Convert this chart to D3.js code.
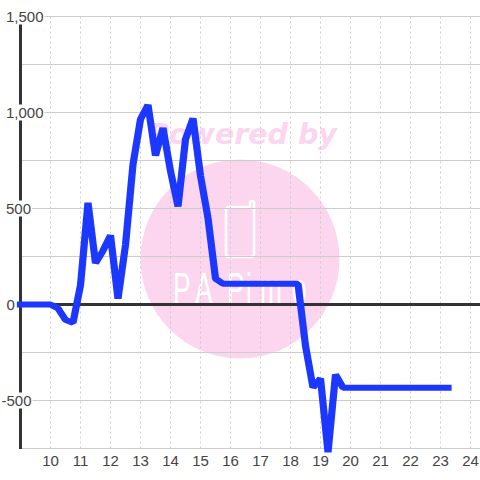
<!DOCTYPE html>
<html><head><meta charset="utf-8">
<script src="https://cdn.jsdelivr.net/npm/d3@7"></script>
<style>html,body{margin:0;padding:0;background:#fff}svg{display:block}</style>
</head><body><svg id="c" width="480" height="480"></svg>
<script>
const hours=[9,9.25,9.5,9.75,10,10.25,10.5,10.75,11,11.25,11.5,11.75,12,12.25,12.5,12.75,13,13.25,13.5,13.75,14,14.25,14.5,14.75,15,15.25,15.5,15.75,16,16.25,16.5,16.75,17,17.25,17.5,17.75,18,18.25,18.5,18.75,19,19.25,19.5,19.75,20,20.25,20.5,20.75,21,21.25,21.5,21.75,22,22.25,22.5,22.75,23,23.25];
const values=[0,0,0,0,0,-20,-80,-95,100,530,215,280,360,30,310,730,965,1040,775,920,695,510,860,970,670,450,135,108,108,108,108,108,108,108,108,108,108,108,-215,-433,-385,-770,-365,-433,-433,-433,-433,-433,-433,-433,-433,-433,-433,-433,-433,-433,-433,-433];
const yMajor=[1500,1000,500,0,-500];
const yMinor=[1250,750,250,-250,-750];
const xTicks=[10,11,12,13,14,15,16,17,18,19,20,21,22,23,24];
const logoText="PAPimo";
const logoLefts=[173,195,227,246,260,292];
const svg=d3.select("#c");
const stretch=1.2;
const logoSquash=0.6;
const x=d3.scaleLinear().domain([9,24.333]).range([20.5,480.5]);
const xS=d3.scaleLinear().domain([9,24.333]).range([20.5/stretch,480.5/stretch]);
const y=d3.scaleLinear().domain([-750,1500]).range([448.5,16.5]);
const font="'Liberation Sans',Arial,sans-serif";
// watermark
const wm=svg.append("g");
wm.append("circle").attr("cx",240).attr("cy",259).attr("r",99.5).attr("fill","#fcd6ef");
wm.append("text").attr("x",242.5).attr("y",144).attr("text-anchor","middle").attr("font-family","'DejaVu Sans'").attr("font-weight","bold").attr("font-style","italic").attr("font-size",28.5).attr("fill","#fcd6ef").text("Powered by");
wm.append("path").attr("d","M229 207H250V203Q250 201 252 201Q254 201 254 203V254Q254 257 251 257H229Q226 257 226 254V210Q226 207 229 207Z").attr("fill","none").attr("stroke","#fff").attr("stroke-width",2.5);
wm.append("text").attr("transform",`scale(${logoSquash},1)`).attr("x",logoLefts.map(v=>v/logoSquash).join(" ")).attr("y",304).attr("font-family","'Liberation Sans'").attr("font-size",44).attr("fill","#fff").text(logoText);
// grid
const grid=svg.append("g");
grid.selectAll(".v").data(xTicks).join("line").attr("x1",d=>x(d)).attr("x2",d=>x(d)).attr("y1",y(1500)).attr("y2",y(-750)).attr("stroke","#ccc").attr("stroke-dasharray","2 3");
grid.selectAll(".h").data(yMajor.concat(yMinor).filter(d=>d!==0)).join("line").attr("x1",20).attr("x2",480).attr("y1",d=>y(d)).attr("y2",d=>y(d)).attr("stroke","#ccc");
// zero line and left axis
svg.append("line").attr("x1",20).attr("x2",480).attr("y1",y(0)).attr("y2",y(0)).attr("stroke","#333").attr("stroke-width",3);
svg.append("line").attr("x1",20.5).attr("x2",20.5).attr("y1",16).attr("y2",449).attr("stroke","#333").attr("stroke-width",3);
// labels boxes beneath series
const yl=svg.append("g").selectAll("g").data(yMajor).join("g").attr("transform",d=>`translate(0,${y(d)})`);
const yt=yl.append("text").attr("x",d=>d<0?1.5:(d===0?6.5:6)).attr("dy","0.35em").attr("font-family",font).attr("font-size",15).attr("fill","#444").text(d=>String(d).replace(/\B(?=(\d{3})+$)/g,","));
yt.each(function(d){const b=this.getBBox();if(d!==0)d3.select(this.parentNode).insert("rect","text").attr("x",b.x).attr("y",-8).attr("width",b.width+1).attr("height",16).attr("fill","#fff");});
// series (drawn in a horizontally stretched frame, which thickens steep strokes as in the reference)
svg.append("g").attr("transform",`scale(${stretch},1)`).append("path").datum(hours.map((h,i)=>[h,values[i]])).attr("d",d3.line().x(d=>xS(d[0])).y(d=>y(d[1]))).attr("fill","none").attr("stroke","#1c38ff").attr("stroke-width",6).attr("stroke-linecap","square").attr("stroke-linejoin","bevel");
svg.append("g").selectAll("text").data(xTicks).join("text").attr("x",d=>x(d)).attr("y",466).attr("text-anchor","middle").attr("font-family",font).attr("font-size",15).attr("fill","#444").text(d=>d);
</script></body></html>
